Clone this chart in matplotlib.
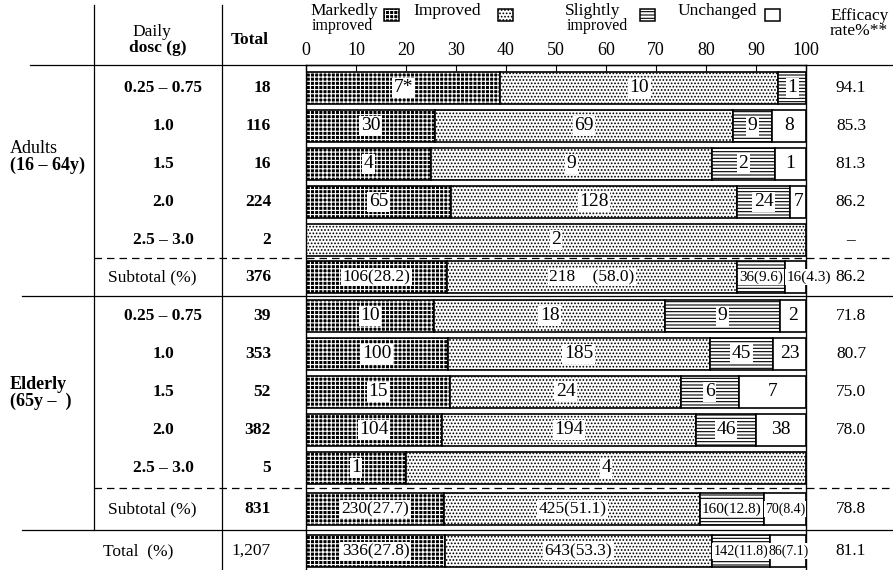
import numpy as np
import matplotlib.pyplot as plt
import matplotlib.transforms as mtransforms
from matplotlib.lines import Line2D
from matplotlib.patches import Rectangle

plt.rcParams['font.family'] = ['Liberation Serif', 'DejaVu Serif']
plt.rcParams['hatch.linewidth'] = 0.8

# ---- values ----
doses = ['0.25 – 0.75', '1.0', '1.5', '2.0', '2.5 – 3.0']

adults_markedly = [7, 30, 4, 65, 0]
adults_improved = [10, 69, 9, 128, 2]
adults_slightly = [1, 9, 2, 24, 0]
adults_unchanged = [0, 8, 1, 7, 0]
adults_total = ['18', '116', '16', '224', '2']
adults_efficacy = ['94.1', '85.3', '81.3', '86.2', '–']

elderly_markedly = [10, 100, 15, 104, 1]
elderly_improved = [18, 185, 24, 194, 4]
elderly_slightly = [9, 45, 6, 46, 0]
elderly_unchanged = [2, 23, 7, 38, 0]
elderly_total = ['39', '353', '52', '382', '5']
elderly_efficacy = ['71.8', '80.7', '75.0', '78.0', '']

adults_subtotal = [106, 218, 36, 16]
adults_subtotal_labels = ['106(28.2)', '218    (58.0)', '36(9.6)', '16(4.3)']
elderly_subtotal = [230, 425, 106, 70]
elderly_subtotal_labels = ['230(27.7)', '425(51.1)', '160(12.8)', '70(8.4)']
overall = [336, 643, 142, 86]
overall_labels = ['336(27.8)', '643(53.3)', '142(11.8)', '86(7.1)']

summary_names = ['Subtotal (%)', 'Subtotal (%)', 'Total  (%)']
summary_n = ['376', '831', '1,207']
summary_efficacy = ['86.2', '78.8', '81.1']

categories = ['Markedly\nimproved', 'Improved', 'Slightly\nimproved', 'Unchanged']

# ---- layout (pixel units of the 893x570 picture) ----
W, H = 893, 570
fig = plt.figure(figsize=(W / 100, H / 100), dpi=100)
ax = fig.add_axes([306 / W, 0, 500 / W, 1 - 65 / H])
ax.set_xlim(0, 100)
ax.set_ylim(H, 65)
tr = mtransforms.blended_transform_factory(fig.transFigure, ax.transData)

pitch = 38
bar_h = 32
y_adults = 88 + pitch * np.arange(5)
y_adults_sub = y_adults[-1] + 37
y_elderly = y_adults_sub + 39 + pitch * np.arange(5)
y_elderly_sub = y_elderly[-1] + 41
y_overall = y_elderly_sub + 42

ys = np.concatenate([y_adults, [y_adults_sub], y_elderly, [y_elderly_sub, y_overall]])
counts = np.array(
    list(zip(adults_markedly, adults_improved, adults_slightly, adults_unchanged))
    + [adults_subtotal]
    + list(zip(elderly_markedly, elderly_improved, elderly_slightly, elderly_unchanged))
    + [elderly_subtotal, overall], dtype=float)
pct = counts / counts.sum(axis=1, keepdims=True) * 100
lefts = np.cumsum(pct, axis=1) - pct

styles = [
    dict(face='black', hatch='++++', hcolor='white'),
    dict(face='white', hatch='.....', hcolor='black'),
    dict(face='white', hatch='-----', hcolor='black'),
    dict(face='white', hatch='', hcolor='black'),
]

for k, st in enumerate(styles):
    m = pct[:, k] > 0
    ax.barh(ys[m], pct[m, k], left=lefts[m, k], height=bar_h, color=st['face'],
            hatch=st['hatch'], edgecolor=st['hcolor'], linewidth=0)
    ax.barh(ys[m], pct[m, k], left=lefts[m, k], height=bar_h, fill=False,
            edgecolor='black', linewidth=1.2)

# ---- labels inside the bars ----
box = dict(boxstyle='square,pad=0.08', fc='white', ec='none')
renderer = fig.canvas.get_renderer()
summary_rows = {5: adults_subtotal_labels, 11: elderly_subtotal_labels, 12: overall_labels}
for i, y in enumerate(ys):
    for k in range(4):
        if counts[i, k] == 0:
            continue
        xc = lefts[i, k] + pct[i, k] / 2
        if i in summary_rows:
            lab = summary_rows[i][k]
            seg_px = pct[i, k] * 5
            if seg_px < 30:
                ax.text(lefts[i, k] + 0.3, y, lab, ha='left', va='center', fontsize=11,
                        bbox=box, clip_on=False, zorder=5)
                continue
            t = ax.text(xc, y, lab, ha='center', va='center', fontsize=12.5, bbox=box, zorder=5)
            w = t.get_window_extent(renderer).width
            if w > seg_px - 4:
                t.set_fontsize(max(10, 12.5 * (seg_px - 4) / w))
        else:
            lab = str(int(counts[i, k]))
            if i == 0 and k == 0:
                lab = '7*'
            ax.text(xc, y, lab, ha='center', va='center', fontsize=14, bbox=box, zorder=5)

# ---- axes styling ----
ax.xaxis.tick_top()
ax.set_xticks(np.arange(0, 101, 10))
ax.tick_params(axis='x', direction='in', length=4, pad=4, labelsize=13)
ax.set_yticks([])
ax.spines['bottom'].set_visible(False)
for s in ['top', 'left', 'right']:
    ax.spines[s].set_linewidth(1.0)

# ---- table text ----
def px(x):
    return x / W

for y, d, n, e in zip(y_adults, doses, adults_total, adults_efficacy):
    fig.text(px(163), y, d, transform=tr, ha='center', va='center', fontsize=12.5, fontweight='bold')
    fig.text(px(271), y, n, transform=tr, ha='right', va='center', fontsize=12.5, fontweight='bold')
    fig.text(px(851), y, e, transform=tr, ha='center', va='center', fontsize=12.5)
for y, d, n, e in zip(y_elderly, doses, elderly_total, elderly_efficacy):
    fig.text(px(163), y, d, transform=tr, ha='center', va='center', fontsize=12.5, fontweight='bold')
    fig.text(px(271), y, n, transform=tr, ha='right', va='center', fontsize=12.5, fontweight='bold')
    fig.text(px(851), y, e, transform=tr, ha='center', va='center', fontsize=12.5)

for y, name, n, e, xn in zip([y_adults_sub, y_elderly_sub, y_overall], summary_names,
                             summary_n, summary_efficacy, [152, 152, 138]):
    fig.text(px(xn), y, name, transform=tr, ha='center', va='center', fontsize=12.5)
    fig.text(px(271), y, n, transform=tr, ha='right', va='center', fontsize=12.5,
             fontweight='bold' if n != '1,207' else 'normal')
    fig.text(px(851), y, e, transform=tr, ha='center', va='center', fontsize=12.5)

fig.text(px(10), 149, 'Adults', transform=tr, ha='left', va='center', fontsize=13)
fig.text(px(10), 165, '(16 – 64y)', transform=tr, ha='left', va='center', fontsize=13, fontweight='bold')
fig.text(px(10), 385, 'Elderly', transform=tr, ha='left', va='center', fontsize=13, fontweight='bold')
fig.text(px(10), 401, '(65y –  )', transform=tr, ha='left', va='center', fontsize=13, fontweight='bold')

# header
fig.text(px(152), 32, 'Daily', transform=tr, ha='center', va='center', fontsize=12.5)
fig.text(px(158), 48, 'dosc (g)', transform=tr, ha='center', va='center', fontsize=12.5, fontweight='bold')
fig.text(px(250), 40, 'Total', transform=tr, ha='center', va='center', fontsize=12.5, fontweight='bold')
fig.text(px(830), 16, 'Efficacy', transform=tr, ha='left', va='center', fontsize=12.5)
fig.text(px(830), 31, 'rate%**', transform=tr, ha='left', va='center', fontsize=12.5)

# legend in the header
legend_x = [310, 413, 565, 678]
icon_x = [384, 498, 640, 765]
for k, (name, lx, ix) in enumerate(zip(categories, legend_x, icon_x)):
    parts = name.split('\n')
    fig.text(px(lx), 11, parts[0], transform=tr, ha='left', va='center', fontsize=12.5)
    if len(parts) > 1:
        fig.text(px(lx + 2), 26, parts[1], transform=tr, ha='left', va='center', fontsize=11.5)
    st = styles[k]
    fig.add_artist(Rectangle((px(ix), 9), px(15), 12, transform=tr, facecolor=st['face'],
                             hatch=st['hatch'], edgecolor=st['hcolor'], linewidth=0))
    fig.add_artist(Rectangle((px(ix), 9), px(15), 12, transform=tr, fill=False,
                             edgecolor='black', linewidth=1.1))

# ---- table rules ----
def hline(y, x0, x1, ls='-'):
    fig.add_artist(Line2D([px(x0), px(x1)], [y, y], transform=tr, color='black',
                          linewidth=0.9, linestyle=ls))

def vline(x, y0, y1):
    fig.add_artist(Line2D([px(x), px(x)], [y0, y1], transform=tr, color='black', linewidth=0.9))

dash = (0, (6, 4))
solid_1 = (y_adults_sub + y_elderly[0]) / 2
solid_2 = (y_elderly_sub + y_overall) / 2
hline(65, 30, W)
hline((y_adults[-1] + y_adults_sub) / 2, 94, W, dash)
hline(solid_1, 22, W)
hline((y_elderly[-1] + y_elderly_sub) / 2, 94, W, dash)
hline(solid_2, 22, W)
vline(94, 5, solid_2)
vline(222, 5, H)

fig.savefig('out.png', dpi=100)
